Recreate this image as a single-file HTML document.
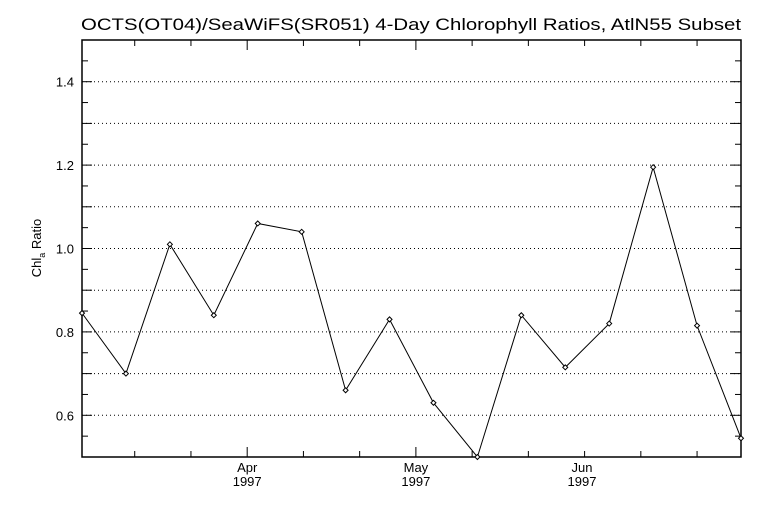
<!DOCTYPE html>
<html><head><meta charset="utf-8"><style>
html,body{margin:0;padding:0;background:#fff;}
svg text{font-family:"Liberation Sans",sans-serif;fill:#000;}
</style></head><body>
<svg id="chart" width="768" height="512" viewBox="0 0 768 512" xmlns="http://www.w3.org/2000/svg">
<rect width="768" height="512" fill="#fff"/>
<text x="411" y="30" font-size="17" text-anchor="middle" textLength="660" lengthAdjust="spacingAndGlyphs">OCTS(OT04)/SeaWiFS(SR051) 4-Day Chlorophyll Ratios, AtlN55 Subset</text>
<text transform="translate(41,248) rotate(-90)" font-size="13" text-anchor="middle">Chl<tspan font-size="9" dy="4">a</tspan><tspan dy="-4"> Ratio</tspan></text>
<g id="grid"></g><g id="axes"></g><g id="series"></g>
</svg>
<script>
const values = [0.845, 0.70, 1.01, 0.84, 1.06, 1.04, 0.66, 0.83, 0.63, 0.50, 0.84, 0.715, 0.82, 1.195, 0.815, 0.545];
const monthLabels = ["Apr", "May", "Jun"];
const yearLabels = ["1997", "1997", "1997"];
const monthPositions = [3.76, 7.6, 11.38];
const yTickLabels = ["0.6", "0.8", "1.0", "1.2", "1.4"];
const yTickValues = [0.6, 0.8, 1.0, 1.2, 1.4];

const L=82,R=741,T=40,B=457,yMin=0.5,yMax=1.5;
const xs=i=>L+i*(R-L)/(values.length-1);
const ys=v=>B-(v-yMin)/(yMax-yMin)*(B-T);
const NS="http://www.w3.org/2000/svg";
function mk(tag,parent,attrs){const e=document.createElementNS(NS,tag);for(const k in attrs)e.setAttribute(k,attrs[k]);document.getElementById(parent).appendChild(e);return e;}

for(let k=1;k<10;k++){const v=yMin+k*0.1;
 const g=mk('line','grid',{x1:L,x2:R,y1:ys(v),y2:ys(v),stroke:'#000','stroke-width':1,'stroke-dasharray':'1,3'});
 
 }
const frame=mk('rect','axes',{x:L,y:T,width:R-L,height:B-T,fill:'none',stroke:'#000','stroke-width':1.5});


for(let k=1;k<20;k++){const v=yMin+k*0.05;const len=(k%2===0)?10:6;const y=ys(v);
 mk('line','axes',{x1:L,x2:L+len,y1:y,y2:y,stroke:'#000'});
 mk('line','axes',{x1:R-len,x2:R,y1:y,y2:y,stroke:'#000'});}
yTickValues.forEach((v,i)=>{const t=mk('text','axes',{x:L-8,y:ys(v)+5,'font-size':13,'text-anchor':'end'});t.textContent=yTickLabels[i];
 
 });
const step=(monthPositions[1]-monthPositions[0])/3;
for(let p=monthPositions[0]-3*step;p<=values.length-1;p+=step){if(p<=0.05)continue;
 const x=xs(p);const major=monthPositions.some(m=>Math.abs(m-p)<0.01);const len=major?10:6;
 mk('line','axes',{x1:x,x2:x,y1:B-len,y2:B,stroke:'#000'});
 mk('line','axes',{x1:x,x2:x,y1:T,y2:T+len,stroke:'#000'});}
monthPositions.forEach((p,i)=>{
 const t=mk('text','axes',{x:xs(p),y:B+15,'font-size':13,'text-anchor':'middle'});t.textContent=monthLabels[i];
 
 
 const u=mk('text','axes',{x:xs(p),y:B+29,'font-size':13,'text-anchor':'middle'});u.textContent=yearLabels[i];
 
 });
const line=mk('polyline','series',{points:values.map((v,i)=>xs(i)+','+ys(v)).join(' '),fill:'none',stroke:'#000','stroke-width':1});


values.forEach((v,i)=>{const x=xs(i),y=ys(v);
 const m=mk('path','series',{d:`M${x-2.5},${y}L${x},${y-2.5}L${x+2.5},${y}L${x},${y+2.5}Z`,fill:'#fff',stroke:'#000','stroke-width':1});
 
 });
</script>
</body></html>
